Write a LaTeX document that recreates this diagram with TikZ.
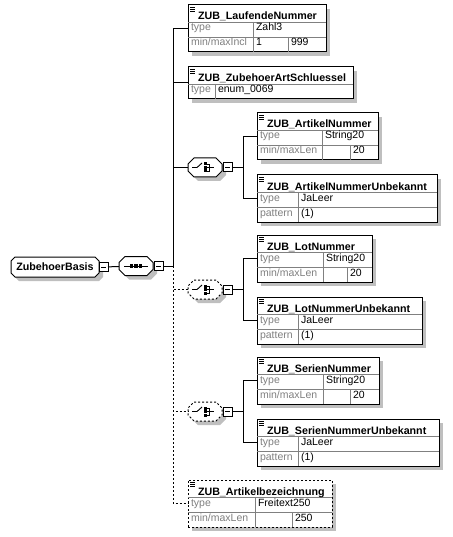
\documentclass[tikz,border=0pt]{standalone}
\usepackage{fontspec}
\setmainfont{Liberation Sans}
\usetikzlibrary{positioning}
\definecolor{rowgray}{RGB}{128,128,128}

\begin{document}
\begin{tikzpicture}[
  x=1pt, y=-1pt, line width=1pt,
  every node/.style={inner sep=0pt, outer sep=0pt},
  shadowfill/.style={fill=black!25, draw=none},
  elembox/.style={draw, fill=white, anchor=north west},
  optbox/.style={elembox, dash pattern=on 2pt off 2pt},
  optline/.style={dash pattern=on 2pt off 2pt},
  grid/.style={draw=rowgray, line width=0.8pt},
  hdr/.style={anchor=base west, font=\fontsize{10.7}{12}\selectfont\bfseries},
  lbl/.style={anchor=base west, text=rowgray, font=\fontsize{10.5}{12}\selectfont},
  val/.style={anchor=base west, font=\fontsize{10.5}{12}\selectfont},
  basisbox/.style={minimum width=88pt, minimum height=20pt,
    font=\fontsize{10.7}{12}\selectfont\bfseries},
  compbox/.style={minimum width=34pt, minimum height=19pt},
  minus/.style={draw, fill=white, solid, minimum size=9pt, anchor=west,
    path picture={\draw[line width=0.8pt] (path picture bounding box.center) ++(-2.5pt,0pt) -- ++(5pt,0pt);}},
  icon/.style={line width=0.9pt, solid}
]
\useasboundingbox (0,0) rectangle (452,537);

% shadows of the element frames
\foreach \x/\y/\w/\h in {188/5/138/47, 188/67/165/32, 257/113/121/47, 257/175/180/47,
    257/235/115/47, 257/297/165/47, 257/357/122/47, 257/419/182/47, 188/480/144/47}
  \fill[shadowfill] (\x+4,\y+4) rectangle (\x+\w+4,\y+\h+4);

% octagons with their shadows (root, sequence, choices)
\foreach \cx/\cy/\a/\b/\c/\s in {55/267/44/10/4/solid, 136/266/17/9.5/6/solid,
    205/167.5/17/9.5/6/solid, 205/289.5/17/9.5/6/optline, 205/411.5/17/9.5/6/optline} {
  \begin{scope}[shift={(\cx+4,\cy+4)}]
    \fill[shadowfill] (-\a+\c,-\b) -- (\a-\c,-\b) -- (\a,-\b+\c) -- (\a,\b-\c)
      -- (\a-\c,\b) -- (-\a+\c,\b) -- (-\a,\b-\c) -- (-\a,-\b+\c) -- cycle;
  \end{scope}
  \begin{scope}[shift={(\cx,\cy)}]
    \draw[fill=white, \s] (-\a+\c,-\b) -- (\a-\c,-\b) -- (\a,-\b+\c) -- (\a,\b-\c)
      -- (\a-\c,\b) -- (-\a+\c,\b) -- (-\a,\b-\c) -- (-\a,-\b+\c) -- cycle;
  \end{scope}
}

% root and sequence
\node[basisbox] (basis) at (55,267) {ZubehoerBasis};
\node[minus] (bm) at (basis.east) {};
\node[compbox] (seq) at (136,266) {};
\node[minus] (sm) at ([xshift=1pt]seq.east) {};
\coordinate (sp) at (173,266);

% choices
\node[compbox] (ch1) at (205,167.5) {};
\node[compbox] (ch2) at (205,289.5) {};
\node[compbox] (ch3) at (205,411.5) {};
\node[minus] (c1m) at ([xshift=1pt]ch1.east) {};
\node[minus] (c2m) at ([xshift=1pt]ch2.east) {};
\node[minus] (c3m) at ([xshift=1pt]ch3.east) {};
\coordinate (b1) at (243,167.5);
\coordinate (b2) at (243,289.5);
\coordinate (b3) at (243,411.5);

% element frames
\node[elembox, minimum width=138pt, minimum height=47pt] (lfd) at (188,5) {};
\node[elembox, minimum width=165pt, minimum height=32pt] (art) at (188,67) {};
\node[elembox, minimum width=121pt, minimum height=47pt] (an) at (257,113) {};
\node[elembox, minimum width=180pt, minimum height=47pt] (anu) at (257,175) {};
\node[elembox, minimum width=115pt, minimum height=47pt] (lot) at (257,235) {};
\node[elembox, minimum width=165pt, minimum height=47pt] (lotu) at (257,297) {};
\node[elembox, minimum width=122pt, minimum height=47pt] (ser) at (257,357) {};
\node[elembox, minimum width=182pt, minimum height=47pt] (seru) at (257,419) {};
\node[optbox, minimum width=144pt, minimum height=47pt] (bez) at (188,480) {};

% sequence mark
\draw[icon] ([xshift=-12pt]seq.center) -- ([xshift=12pt]seq.center);
\foreach \d in {-4.5,0,4.5}
  \fill ([xshift=\d pt-1.75pt, yshift=-1.75pt]seq.center) rectangle ++(3.5pt,3.5pt);

% choice marks
\foreach \n in {ch1,ch2,ch3} {
  \draw[icon] ([xshift=-13pt]\n.center) -- ([xshift=-8pt]\n.center) -- ([xshift=-3pt, yshift=4.5pt]\n.center);
  \foreach \d in {-3.5,0,3.5}
    \fill ([xshift=-1.5pt, yshift=\d pt-1.5pt]\n.center) rectangle ++(3pt,3pt);
  \draw[icon] ([xshift=1.5pt, yshift=3.5pt]\n.center) -| ([xshift=4.5pt, yshift=-3.5pt]\n.center) -- ([xshift=1.5pt, yshift=-3.5pt]\n.center);
  \draw[icon] ([xshift=1.5pt]\n.center) -- ([xshift=9pt]\n.center);
}

% row grid
\draw[grid] (188,22) -- (326,22) (188,37) -- (326,37) (253,22) -- (253,52) (288,37) -- (288,52);
\draw[grid] (188,84) -- (353,84) (215,84) -- (215,99);
\draw[grid] (257,130) -- (378,130) (257,145) -- (378,145) (322,130) -- (322,160) (350,145) -- (350,160);
\draw[grid] (257,192) -- (437,192) (257,207) -- (437,207) (298,192) -- (298,222);
\draw[grid] (257,252) -- (372,252) (257,267) -- (372,267) (323,252) -- (323,282) (347,267) -- (347,282);
\draw[grid] (257,314) -- (422,314) (257,329) -- (422,329) (298,314) -- (298,344);
\draw[grid] (257,374) -- (379,374) (257,389) -- (379,389) (323,374) -- (323,404) (350,389) -- (350,404);
\draw[grid] (257,436) -- (439,436) (257,451) -- (439,451) (298,436) -- (298,466);
\draw[grid] (188,497) -- (332,497) (188,512) -- (332,512) (255,497) -- (255,527) (292,512) -- (292,527);

% simple content marks
\foreach \x/\y in {188/5, 188/67, 257/113, 257/175, 257/235, 257/297, 257/357, 257/419, 188/480}
  \foreach \d in {2,4,6}
    \draw[line width=0.7pt] (\x+2,\y+\d) -- (\x+7,\y+\d);

% texts
\node[hdr] (lfdn) at (198,20) {ZUB\_LaufendeNummer};
\node[lbl] at (191,31) {type};        \node[val] at (256,31) {Zahl3};
\node[lbl] at (191,46) {min/maxIncl}; \node[val] at (256,46) {1}; \node[val] at (291,46) {999};

\node[hdr] (artn) at (198,82) {ZUB\_ZubehoerArtSchluessel};
\node[lbl] at (191,93) {type};        \node[val] at (218,93) {enum\_0069};

\node[hdr] (ann) at (267,128) {ZUB\_ArtikelNummer};
\node[lbl] at (260,139) {type};       \node[val] at (325,139) {String20};
\node[lbl] at (260,154) {min/maxLen}; \node[val] at (353,154) {20};

\node[hdr] (anun) at (267,190) {ZUB\_ArtikelNummerUnbekannt};
\node[lbl] at (260,201) {type};       \node[val] at (301,201) {JaLeer};
\node[lbl] at (260,216) {pattern};    \node[val] at (301,216) {(1)};

\node[hdr] (lotn) at (267,250) {ZUB\_LotNummer};
\node[lbl] at (260,261) {type};       \node[val] at (326,261) {String20};
\node[lbl] at (260,276) {min/maxLen}; \node[val] at (350,276) {20};

\node[hdr] (lotun) at (267,312) {ZUB\_LotNummerUnbekannt};
\node[lbl] at (260,323) {type};       \node[val] at (301,323) {JaLeer};
\node[lbl] at (260,338) {pattern};    \node[val] at (301,338) {(1)};

\node[hdr] (sern) at (267,372) {ZUB\_SerienNummer};
\node[lbl] at (260,383) {type};       \node[val] at (326,383) {String20};
\node[lbl] at (260,398) {min/maxLen}; \node[val] at (353,398) {20};

\node[hdr] (serun) at (267,434) {ZUB\_SerienNummerUnbekannt};
\node[lbl] at (260,445) {type};       \node[val] at (301,445) {JaLeer};
\node[lbl] at (260,460) {pattern};    \node[val] at (301,460) {(1)};

\node[hdr] (bezn) at (198,495) {ZUB\_Artikelbezeichnung};
\node[lbl] at (191,506) {type};       \node[val] at (258,506) {Freitext250};
\node[lbl] at (191,521) {min/maxLen}; \node[val] at (295,521) {250};

% connectors
\draw (bm) -- (seq);
\draw (sm) -- (sp);
\draw (sp) |- (lfd.west);
\draw (sp) |- (art.west);
\draw (sp) |- (ch1.west);
\draw[optline] (sp) |- (ch2.west);
\draw[optline] (sp) |- (ch3.west);
\draw[optline] (sp) |- (bez.west);
\draw (c1m) -- (b1);
\draw (c2m) -- (b2);
\draw (c3m) -- (b3);
\draw (b1) |- (an.west);
\draw (b1) |- (anu.west);
\draw (b2) |- (lot.west);
\draw (b2) |- (lotu.west);
\draw (b3) |- (ser.west);
\draw (b3) |- (seru.west);

\end{tikzpicture}
\end{document}
